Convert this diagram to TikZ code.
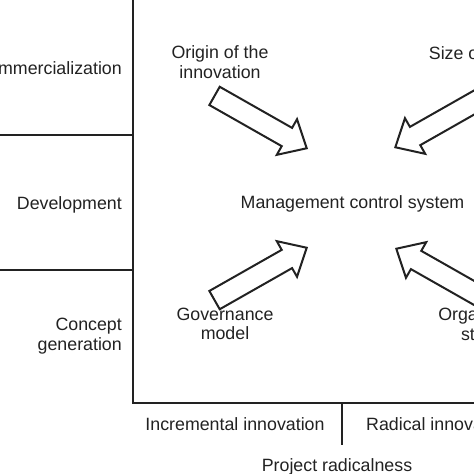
\documentclass[tikz,border=0pt]{standalone}
\usepackage{fontspec}
\setmainfont{Liberation Sans}
\usetikzlibrary{shapes.arrows}
\definecolor{ink}{HTML}{222222}

\tikzset{
    lbl/.style={inner sep=0pt, text=ink, font=\fontsize{17.8}{19.6}\selectfont},
    factor/.style={single arrow, draw=ink, line width=2pt, fill=white,
        inner xsep=0pt, inner ysep=9.5pt, single arrow head extend=10pt,
        single arrow tip angle=84, minimum width=39pt, minimum height=106pt,
        anchor=tip},
}

\begin{document}
\begin{tikzpicture}[x=1pt, y=-1pt]

    % Picture size
    \def\w{474}
    \def\h{474}
    \def\xa{133}    % vertical axis
    \def\yb{403}    % horizontal axis

    \useasboundingbox (0,0) rectangle (\w,\h);
    \clip (0,0) rectangle (\w,\h);

    % Axes
    \coordinate (ytop)  at (\xa,-5);
    \coordinate (orig)  at (\xa,\yb);
    \coordinate (xend)  at (\w+5,\yb);
    \draw[ink, line width=2pt] (ytop) -- (orig) -- (xend);

    % Stage separators
    \coordinate (s1l) at (-5,135);
    \coordinate (s1r) at (\xa,135);
    \coordinate (s2l) at (-5,270);
    \coordinate (s2r) at (\xa,270);
    \draw[ink, line width=2pt] (s1l) -- (s1r);
    \draw[ink, line width=2pt] (s2l) -- (s2r);

    % Radicalness separator
    \coordinate (t1) at (342,\yb);
    \coordinate (t2) at (342,445);
    \draw[ink, line width=2pt] (t1) -- (t2);

    % Stages
    \node[lbl, anchor=base east] (comm) at (122,74.5) {Commercialization};
    \node[lbl, anchor=base east] (dev)  at (122,209)  {Development};
    \node[lbl, anchor=east, align=right] (concept) at (122,336.2) {Concept\\generation};

    % Radicalness
    \node[lbl, anchor=base] (incr) at (235,430) {Incremental innovation};
    \node[lbl, anchor=base west] (rad) at (366,430) {Radical innovation};
    \node[lbl, anchor=base] (proj) at (337,471.5) {Project radicalness};

    % Centre
    \node[lbl, anchor=base] (mcs) at (352.5,208) {Management control system};

    % Factors
    \node[lbl, align=center] (origin) at (220,62.3) {Origin of the\\innovation};
    \node[lbl, anchor=base west] (size) at (428.7,59) {Size of the company};
    \node[lbl, align=center] (gov) at (225,323.8) {Governance\\model};
    \node[lbl, align=center] (org) at (495.7,324.3) {Organizational\\structure};

    % Arrows
    \node[factor, rotate=-29.6] (aorigin) at (308,149) {};
    \node[factor, rotate=209.6] (asize)   at (394,148) {};
    \node[factor, rotate=29.6]  (agov)    at (308,247) {};
    \node[factor, rotate=150.4] (aorg)    at (395,248) {};

\end{tikzpicture}
\end{document}
